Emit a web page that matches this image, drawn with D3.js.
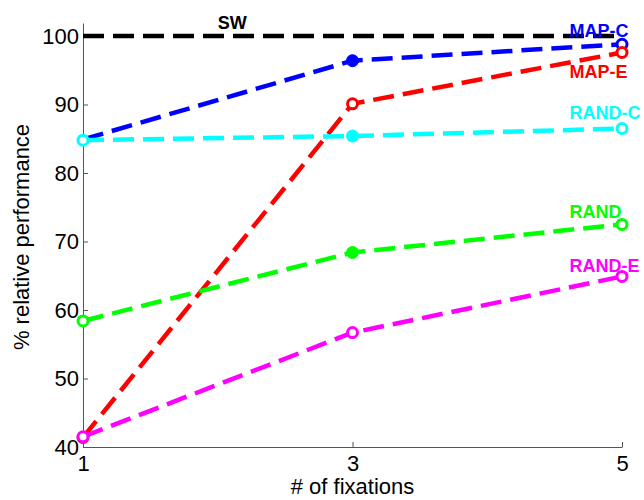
<!DOCTYPE html>
<html>
<head>
<meta charset="utf-8">
<script src="https://cdn.jsdelivr.net/npm/d3@7"></script>
<style>
  body { margin: 0; background: #fff; }
  text { font-family: "Liberation Sans", Arial, sans-serif; }
</style>
</head>
<body>
<div id="chart"></div>
<script>
// data
var fixations = [1, 3, 5];
var xTicks = [1, 3, 5];
var yTicks = [40, 50, 60, 70, 80, 90, 100];

var swValues = [100, 100, 100];
var mapC = [84.9, 96.4, 98.8];
var mapE = [41.4, 90.1, 97.6];
var randC = [84.8, 85.4, 86.5];
var rand = [58.4, 68.4, 72.5];
var randE = [41.5, 56.7, 64.9];

var names = ['SW', 'MAP-C', 'MAP-E', 'RAND-C', 'RAND', 'RAND-E'];
var colors = ['#000000', '#0000ff', '#ff0000', '#00ffff', '#00ff00', '#ff00ff'];
// marker style per point: 'f' filled, 'o' open, '' none
var markers = [
  ['', '', ''],
  ['', 'f', 'o'],
  ['o', 'o', 'o'],
  ['o', 'f', 'o'],
  ['o', 'f', 'o'],
  ['o', 'o', 'o']
];
var seriesVals = [swValues, mapC, mapE, randC, rand, randE];

var W = 644, H = 500;
var margin = {top: 23, right: 22, bottom: 53, left: 83};
var width = W - margin.left - margin.right,
    height = H - margin.top - margin.bottom;

var svg = d3.select('#chart').append('svg').attr('width', W).attr('height', H);
var g = svg.append('g').attr('transform', 'translate(' + margin.left + ',' + margin.top + ')');

var x = d3.scaleLinear().domain([1, 5]).range([0, width]);
var y = d3.scaleLinear().domain([40, 101.9]).range([height, 0]);

// axes
var xAxis = g.append('g').attr('transform', 'translate(0,' + height + ')')
  .call(d3.axisBottom(x).tickValues(xTicks).tickSizeInner(-5).tickSizeOuter(0).tickPadding(8).tickFormat(d3.format('d')));
var yAxis = g.append('g')
  .call(d3.axisLeft(y).tickValues(yTicks).tickSizeInner(-5).tickSizeOuter(0).tickPadding(4));
[xAxis, yAxis].forEach(function(a) {
  a.select('.domain').attr('stroke', '#555').attr('stroke-width', 1);
  a.selectAll('.tick line').attr('stroke', '#555');
  a.selectAll('.tick text').attr('fill', '#000').style('font-size', '22px');
});
xAxis.selectAll('.tick text').attr('dy', '0.72em');

g.append('text').attr('x', width / 2).attr('y', height + 47)
  .attr('text-anchor', 'middle').style('font-size', '22px').text('# of fixations');
g.append('text').attr('transform', 'translate(-54,' + (height / 2 + 2) + ') rotate(-90)')
  .attr('text-anchor', 'middle').style('font-size', '22px').text('% relative performance');

var line = d3.line().x(function(d, i) { return x(fixations[i]); }).y(function(d) { return y(d); });

seriesVals.forEach(function(vals, si) {
  g.append('path').datum(vals)
    .attr('d', line)
    .attr('fill', 'none')
    .attr('stroke', colors[si])
    .attr('stroke-width', 4.5)
    .attr('stroke-dasharray', '21,9');
});

seriesVals.forEach(function(vals, si) {
  vals.forEach(function(v, i) {
    var m = markers[si][i];
    if (!m) return;
    g.append('circle')
      .attr('cx', x(fixations[i])).attr('cy', y(v))
      .attr('r', m === 'f' ? 6 : 5)
      .attr('fill', m === 'f' ? colors[si] : '#fff')
      .attr('stroke', colors[si])
      .attr('stroke-width', m === 'f' ? 1 : 3);
  });
});

// series labels
var labelPos = [
  {x: 2.0, y: 101.0},
  {x: 4.61, y: 99.9},
  {x: 4.61, y: 93.9},
  {x: 4.61, y: 87.9},
  {x: 4.61, y: 73.4},
  {x: 4.61, y: 65.6}
];
names.forEach(function(n, i) {
  g.append('text')
    .attr('x', x(labelPos[i].x)).attr('y', y(labelPos[i].y))
    .style('font-size', '18px').style('font-weight', 'bold')
    .attr('fill', colors[i]).text(n);
});
</script>
</body>
</html>
